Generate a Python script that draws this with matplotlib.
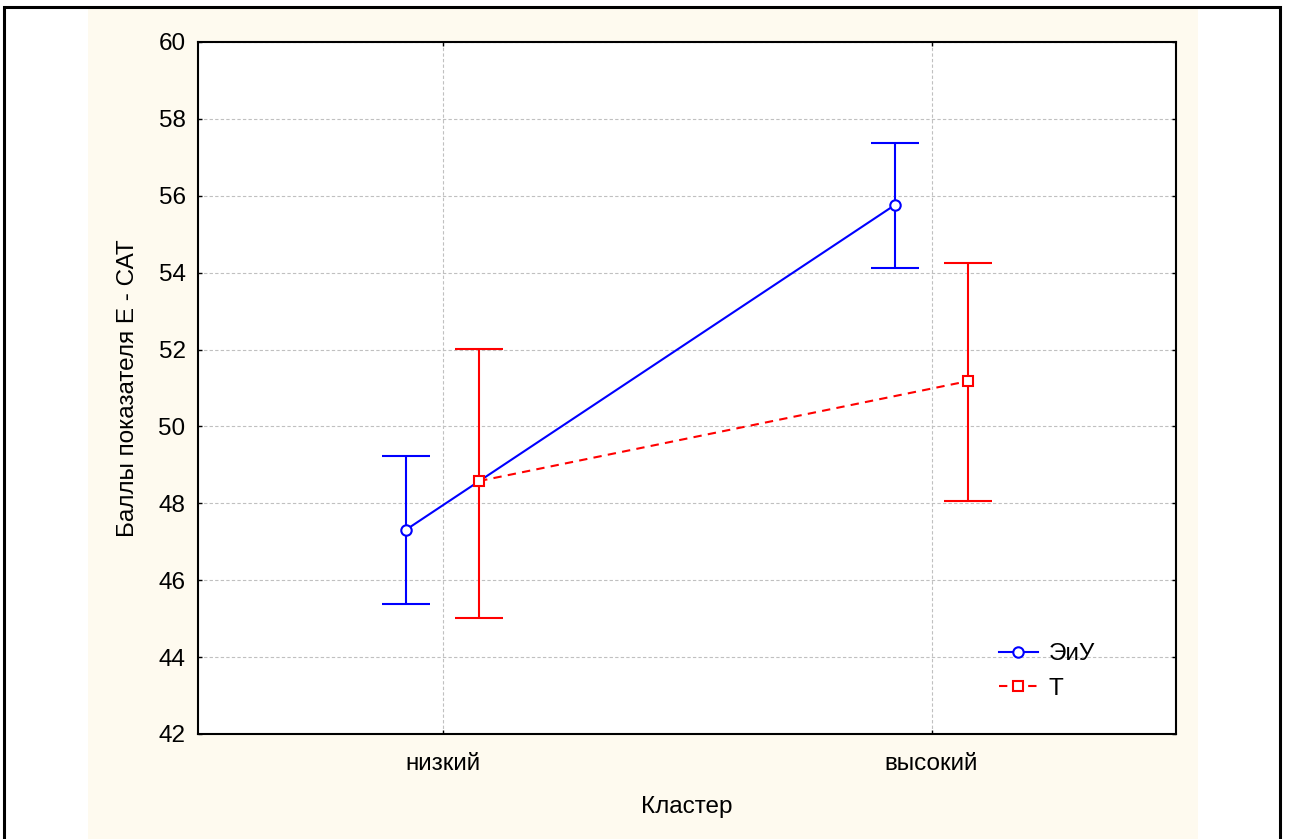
import numpy as np
import matplotlib.pyplot as plt
from matplotlib.patches import Rectangle
from matplotlib.lines import Line2D

plt.rcParams['font.family'] = ['Liberation Sans', 'DejaVu Sans']

# Категории и данные
clusters = ['низкий', 'высокий']
series = ['ЭиУ', 'Т']

eiu_mean = [47.31, 55.76]
eiu_low = [45.38, 54.12]
eiu_high = [49.23, 57.37]

t_mean = [48.58, 51.18]
t_low = [45.02, 48.06]
t_high = [52.02, 54.25]

x = np.arange(len(clusters))
shift = 0.075
fs = 17.5

fig = plt.figure(figsize=(12.89, 8.39), dpi=100)
fig.patch.set_facecolor('white')

# cream panel behind the plot and outer frame
fig.add_artist(Rectangle((88 / 1289, 0), (1198 - 88) / 1289, 1 - 8 / 839,
                         transform=fig.transFigure, facecolor='#fefaef',
                         edgecolor='none', zorder=-5))
fig.add_artist(Rectangle((4 / 1289, -0.02), (1280 - 4) / 1289, 1.02 - 7 / 839,
                         transform=fig.transFigure, facecolor='none',
                         edgecolor='black', linewidth=2.2, zorder=10))

ax = fig.add_axes([198 / 1289, 1 - 734 / 839, (1176 - 198) / 1289, (734 - 42) / 839])
ax.set_facecolor('white')
ax.set_zorder(1)

blue = '#0000ff'
red = '#ff0000'
dash = (0, (4, 3))

ax.errorbar(x - shift, eiu_mean,
            yerr=[np.subtract(eiu_mean, eiu_low), np.subtract(eiu_high, eiu_mean)],
            color=blue, lw=1.5, marker='o', ms=7.5, mfc='white', mec=blue,
            mew=1.5, capsize=17, capthick=1.5, elinewidth=1.5, zorder=3)
ax.errorbar(x + shift, t_mean,
            yerr=[np.subtract(t_mean, t_low), np.subtract(t_high, t_mean)],
            color=red, lw=1.5, ls=dash, marker='s', ms=7.5, mfc='white',
            mec=red, mew=1.5, capsize=17, capthick=1.5, elinewidth=1.5, zorder=3)

ax.set_xlim(-0.5, 1.5)
ax.set_ylim(42, 60)
ax.set_yticks(np.arange(42, 61, 2))
ax.set_xticks(x)
ax.set_xticklabels(clusters)

ax.grid(True, color='#c0c0c0', ls=(0, (3, 2)), lw=0.8)
ax.set_axisbelow(True)
ax.tick_params(direction='in', length=3, width=1, labelsize=fs, top=True, right=True)
ax.tick_params(axis='x', pad=14)
ax.tick_params(axis='y', pad=9)
for s in ax.spines.values():
    s.set_linewidth(1.5)

ax.set_ylabel('Баллы показателя Е - САТ', fontsize=fs, labelpad=14)
ax.set_xlabel('Кластер', fontsize=fs, labelpad=15)

handles = [
    Line2D([], [], color=blue, lw=1.5, marker='o', ms=7.5, mfc='white', mec=blue, mew=1.5),
    Line2D([], [], color=red, lw=1.5, ls=dash, marker='s', ms=7.5, mfc='white', mec=red, mew=1.5),
]
ax.legend(handles, series, loc='upper left', bbox_to_anchor=(0.819, 0.131),
          frameon=False, fontsize=fs, handlelength=1.6, handletextpad=0.45,
          labelspacing=0.5, borderpad=0, borderaxespad=0)

fig.savefig('out.png', dpi=100, facecolor=fig.get_facecolor())
